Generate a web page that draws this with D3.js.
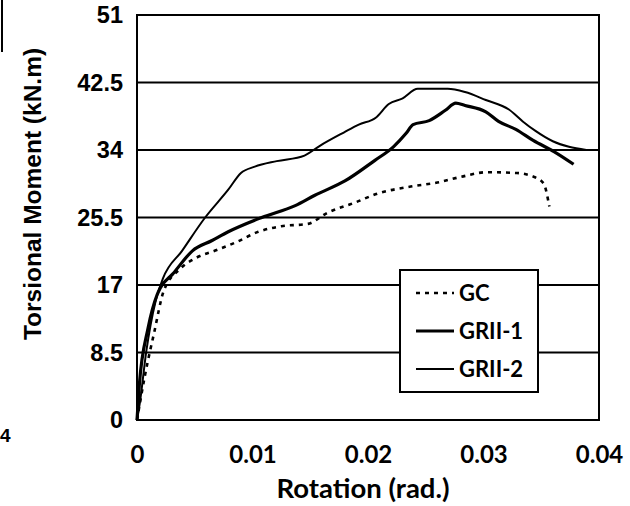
<!DOCTYPE html>
<html><head><meta charset="utf-8">
<script src="https://cdn.jsdelivr.net/npm/d3@7"></script>
<style>body{margin:0;background:#fff}</style>
</head><body>
<svg id="chart" width="630" height="506"></svg>
<script>
const xTicks = [0, 0.01, 0.02, 0.03, 0.04];
const yTicks = [0, 8.5, 17, 25.5, 34, 42.5, 51];
const seriesNames = ["GC", "GRII-1", "GRII-2"];

const gcX = [0, 0.0007, 0.0015, 0.0023, 0.0037, 0.0051, 0.0069, 0.0086, 0.0105, 0.0125, 0.0148, 0.0165, 0.0189, 0.0208, 0.0237, 0.0260, 0.0280, 0.0303, 0.0329, 0.0344, 0.0352, 0.0357];
const gcY = [0, 5.7, 11.1, 16.2, 19.0, 20.4, 21.4, 22.4, 23.7, 24.4, 24.7, 26.1, 27.4, 28.5, 29.4, 29.9, 30.6, 31.2, 31.1, 30.6, 29.8, 26.9];

const gr1X = [0, 0.0002, 0.00095, 0.00175, 0.002, 0.0031, 0.0048, 0.0065, 0.0079, 0.0108, 0.0137, 0.0154, 0.0180, 0.0206, 0.0222, 0.0233, 0.0239, 0.0253, 0.0267, 0.0276, 0.0284, 0.0302, 0.0313, 0.0328, 0.0343, 0.0361, 0.0378];
const gr1Y = [0, 4.4, 11.5, 15.8, 16.6, 18.4, 21.3, 22.6, 23.7, 25.5, 27.0, 28.3, 30.1, 32.7, 34.4, 36.1, 37.2, 37.7, 39.0, 39.9, 39.6, 38.8, 37.6, 36.6, 35.2, 33.8, 32.2];

const gr2X = [0, 0.00026, 0.0008, 0.0016, 0.00224, 0.0039, 0.0059, 0.0079, 0.0090, 0.0102, 0.0121, 0.0145, 0.0158, 0.0179, 0.0192, 0.0207, 0.0218, 0.0230, 0.0243, 0.0269, 0.0284, 0.0302, 0.0322, 0.0334, 0.0345, 0.0360, 0.0374, 0.0389];
const gr2Y = [0, 2.3, 8.6, 14.9, 17.8, 21.3, 25.5, 29.0, 31.1, 31.9, 32.6, 33.3, 34.5, 36.2, 37.2, 38.1, 39.8, 40.5, 41.7, 41.7, 41.3, 40.3, 39.1, 37.6, 36.4, 35.1, 34.4, 34.0];

const svg = d3.select("#chart");
const L = 137, R = 599, T = 15, B = 420;
const x = d3.scaleLinear().domain([0, 0.04]).range([L, R]);
const y = d3.scaleLinear().domain([0, 51]).range([B, T]);

// scan artifacts
svg.append("line").attr("x1", 2).attr("x2", 2).attr("y1", 0).attr("y2", 52).attr("stroke", "#000").attr("stroke-width", 2);
svg.append("text").attr("x", 0).attr("y", 442).attr("font-family", "Liberation Sans, Arial, sans-serif").attr("font-weight", "bold").attr("font-size", 19).text("4");

// gridlines
svg.append("g").selectAll("line").data(yTicks).join("line")
  .attr("x1", L).attr("x2", R).attr("y1", d => y(d)).attr("y2", d => y(d))
  .attr("stroke", "#000").attr("stroke-width", 2);
// frame
svg.append("rect").attr("x", L).attr("y", T).attr("width", R - L).attr("height", B - T)
  .attr("fill", "none").attr("stroke", "#000").attr("stroke-width", 2);

// y axis labels
const yAxis = d3.axisLeft(y).tickValues(yTicks).tickSize(0).tickPadding(14).tickFormat(d => String(d));
const gy = svg.append("g").attr("transform", `translate(${L},0)`).call(yAxis);
gy.select(".domain").remove();
gy.selectAll("text").attr("font-family", "Liberation Sans, Arial, sans-serif").attr("font-weight", "bold").attr("font-size", 23.5).attr("fill", "#000");

// x axis labels
const xAxis = d3.axisBottom(x).tickValues(xTicks).tickSize(0).tickPadding(26).tickFormat(d => String(d));
const gx = svg.append("g").attr("transform", `translate(0,${B})`).call(xAxis);
gx.select(".domain").remove();
gx.selectAll("text").attr("font-family", "Lato, sans-serif").attr("font-weight", "bold").attr("font-size", 24).attr("fill", "#000");

// titles
svg.append("text").attr("x", 363).attr("y", 498).attr("text-anchor", "middle")
  .attr("font-family", "Lato, sans-serif").attr("font-weight", "bold").attr("font-size", 27.5).text("Rotation (rad.)");
svg.append("text").attr("transform", "translate(41,194) rotate(-90)").attr("text-anchor", "middle")
  .attr("font-family", "Liberation Sans, Arial, sans-serif").attr("font-weight", "bold").attr("font-size", 24.5).text("Torsional Moment (kN.m)");

// series
const line = d3.line().x(d => x(d[0])).y(d => y(d[1])).curve(d3.curveMonotoneX);
const series = [
  {name: seriesNames[0], pts: d3.zip(gcX, gcY), w: 2.6, dash: "4,5"},
  {name: seriesNames[1], pts: d3.zip(gr1X, gr1Y), w: 3.2, dash: null},
  {name: seriesNames[2], pts: d3.zip(gr2X, gr2Y), w: 2, dash: null}
];
svg.append("g").selectAll("path").data(series).join("path")
  .attr("d", d => line(d.pts)).attr("fill", "none").attr("stroke", "#000")
  .attr("stroke-width", d => d.w).attr("stroke-dasharray", d => d.dash);

// legend
const lg = svg.append("g");
lg.append("rect").attr("x", 400).attr("y", 270).attr("width", 138).attr("height", 122)
  .attr("fill", "#fff").attr("stroke", "#000").attr("stroke-width", 2);
const ly = [293, 331, 369];
series.forEach((s, i) => {
  lg.append("line").attr("x1", 416).attr("x2", 454).attr("y1", ly[i]).attr("y2", ly[i])
    .attr("stroke", "#000").attr("stroke-width", s.w).attr("stroke-dasharray", s.dash);
  lg.append("text").attr("x", 459).attr("y", ly[i] + 8).attr("font-family", "Lato, sans-serif")
    .attr("font-weight", "bold").attr("font-size", 22).text(s.name);
});
</script>
</body></html>
